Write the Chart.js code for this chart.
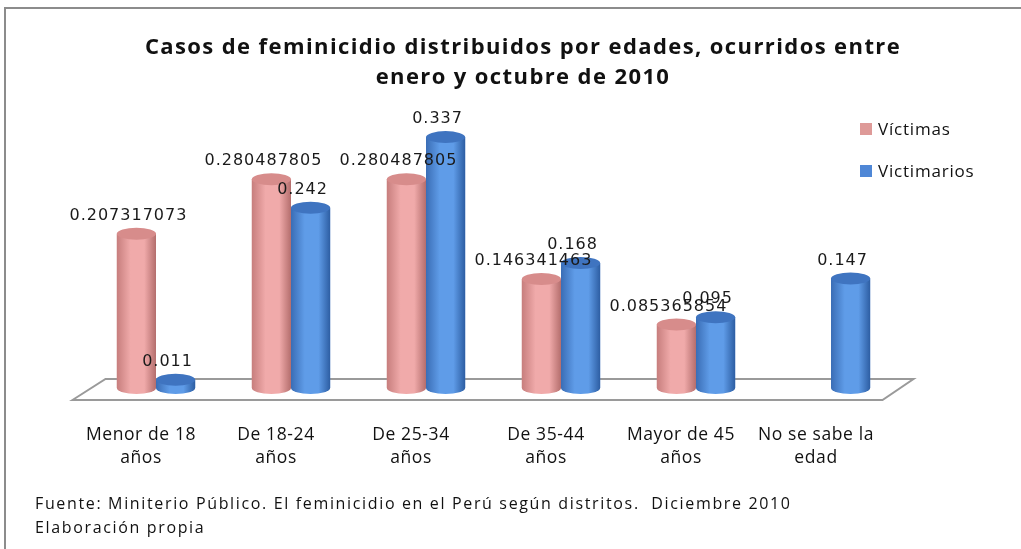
<!DOCTYPE html>
<html><head><meta charset="utf-8">
<script src="https://cdn.jsdelivr.net/npm/chart.js@4/dist/chart.umd.min.js"></script>
<style>
html,body{margin:0;padding:0;background:#fff;overflow:hidden;width:1021px;height:549px}
#wrap{position:absolute;left:0;top:0;width:1021px;height:549px}
#frame{position:absolute;left:4px;top:7px;width:1100px;height:700px;border:2px solid #8c8c8c;box-sizing:border-box}
#title{position:absolute;left:0;top:30px;width:1046px;text-align:center;font:bold 22px "Open Sans",sans-serif;line-height:30px;color:#111;letter-spacing:1.4px}
#src{position:absolute;left:35px;top:491px;font:16px "Open Sans",sans-serif;line-height:24px;color:#111;letter-spacing:1.65px;white-space:pre}
</style></head>
<body>
<div id="frame"></div>
<div id="wrap"><canvas id="c" width="1021" height="549"></canvas></div>
<div id="title">Casos de feminicidio distribuidos por edades, ocurridos entre<br>enero y octubre de 2010</div>
<div id="src">Fuente: Miniterio Público. El feminicidio en el Perú según distritos.  Diciembre 2010
Elaboración propia</div>
<script>
const categories = [["Menor de 18","años"],["De 18-24","años"],["De 25-34","años"],["De 35-44","años"],["Mayor de 45","años"],["No se sabe la","edad"]];
const victimas = [0.207317073, 0.280487805, 0.280487805, 0.146341463, 0.085365854, null];
const victimarios = [0.011, 0.242, 0.337, 0.168, 0.095, 0.147];
const seriesNames = ["Víctimas","Victimarios"];

const shades = [
  {legend:'#DE9A98', l:'#C77E7D', m:'#F0AAAA', r:'#B46E6D', top:'#D78C8B'},
  {legend:'#4F87D6', l:'#3A6DB5', m:'#5F9CE8', r:'#2D5EA3', top:'#3F74C0'}
];

const cylPlugin = {
  id:'cyl',
  beforeDatasetsDraw(chart){
    const ctx=chart.ctx, a=chart.chartArea, y0=chart.scales.y.getPixelForValue(0);
    ctx.save();
    ctx.beginPath();
    ctx.moveTo(a.left-16, y0+12);
    ctx.lineTo(a.left+17, y0-9);
    ctx.lineTo(a.right+15, y0-9);
    ctx.lineTo(a.right-16, y0+12);
    ctx.closePath();
    ctx.fillStyle='#fff'; ctx.fill();
    ctx.strokeStyle='#9a9a9a'; ctx.lineWidth=2; ctx.stroke();
    ctx.restore();
  },
  afterDatasetsDraw(chart){
    const ctx=chart.ctx;
    ctx.save();
    chart.data.datasets.forEach((ds,di)=>{
      const sh=shades[di];
      chart.getDatasetMeta(di).data.forEach((el,i)=>{
        if(ds.data[i]==null) return;
        const x=el.x, w=el.width, top=el.y, base=el.base, rx=w/2, ry=6;
        const g=ctx.createLinearGradient(x-rx,0,x+rx,0);
        g.addColorStop(0,sh.l); g.addColorStop(0.35,sh.m); g.addColorStop(0.7,sh.m); g.addColorStop(1,sh.r);
        ctx.fillStyle=g;
        ctx.beginPath();
        ctx.moveTo(x-rx,top);
        ctx.lineTo(x-rx,base);
        ctx.ellipse(x,base,rx,ry,0,Math.PI,0,true);
        ctx.lineTo(x+rx,top);
        ctx.closePath();
        ctx.fill();
        ctx.fillStyle=sh.top;
        ctx.beginPath(); ctx.ellipse(x,top,rx,ry,0,0,Math.PI*2); ctx.fill();
      });
    });
    // value labels
    ctx.font='16px "DejaVu Sans"';
    ctx.letterSpacing='1px';
    ctx.fillStyle='#1a1a1a';
    ctx.textAlign='center'; ctx.textBaseline='middle';
    chart.data.datasets.forEach((ds,di)=>{
      chart.getDatasetMeta(di).data.forEach((el,i)=>{
        if(ds.data[i]==null) return;
        ctx.fillText(String(ds.data[i]), el.x-8, el.y-18);
      });
    });
    // category labels
    const xs=chart.scales.x, y0=chart.scales.y.getPixelForValue(0);
    ctx.font='17.5px "Open Sans"';
    ctx.letterSpacing='0.6px';
    ctx.fillStyle='#111';
    chart.data.labels.forEach((lab,i)=>{
      const px=xs.getPixelForValue(i)-15;
      lab.forEach((ln,k)=>ctx.fillText(ln,px,y0+47+k*23));
    });
    // legend
    ctx.font='17px "Open Sans"';
    ctx.letterSpacing='0.8px';
    ctx.textAlign='left';
    chart.data.datasets.forEach((ds,di)=>{
      const cy=129+di*42;
      ctx.fillStyle=shades[di].legend;
      ctx.fillRect(860,cy-6,12,12);
      ctx.fillStyle='#111';
      ctx.fillText(ds.label,878,cy+1);
    });
    ctx.restore();
  }
};

new Chart(document.getElementById('c'),{
  type:'bar',
  data:{
    labels:categories,
    datasets:[
      {label:seriesNames[0],data:victimas,backgroundColor:shades[0].legend},
      {label:seriesNames[1],data:victimarios,backgroundColor:shades[1].legend}
    ]
  },
  options:{
    responsive:false,
    animation:false,
    devicePixelRatio:1,
    layout:{padding:{left:88.5,right:122.5,top:120,bottom:161}},
    categoryPercentage:0.58,
    barPercentage:1,
    plugins:{legend:{display:false},title:{display:false},tooltip:{enabled:false}},
    scales:{
      x:{display:false},
      y:{display:false,min:0,max:0.36}
    }
  },
  plugins:[cylPlugin]
});
</script>
</body></html>
